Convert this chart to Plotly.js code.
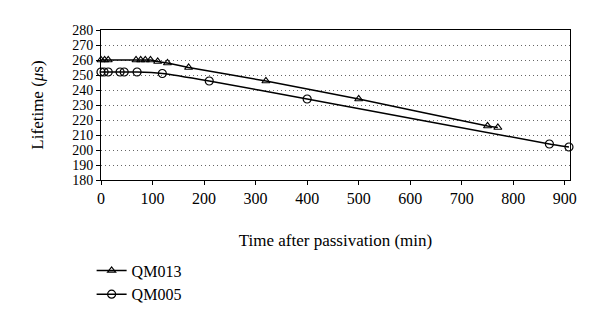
<!DOCTYPE html>
<html>
<head>
<meta charset="utf-8">
<script src="https://cdn.plot.ly/plotly-3.0.1.min.js"></script>
<style>html,body{margin:0;padding:0;background:#fff;}#chart{width:600px;height:324px;}</style>
</head>
<body>
<div id="chart"></div>
<script>
const qm013Time = [0, 7, 14, 68, 77, 86, 96, 110, 129, 170, 320, 500, 750, 770];
const qm013Life = [260, 260, 260, 260, 260, 260, 260, 259, 258, 255, 246, 234, 216, 215];
const qm005Time = [0, 6, 14, 37, 45, 70, 119, 210, 400, 870, 908];
const qm005Life = [252, 252, 252, 252, 252, 252, 251, 246, 234, 204, 202];
const seriesNames = ['QM013', 'QM005'];

const font = 'Liberation Serif, Times New Roman, serif';
const traces = [
  {x: qm013Time, y: qm013Life, name: seriesNames[0], type: 'scatter', mode: 'lines+markers',
   line: {color: '#000', width: 1.5, shape: 'spline', smoothing: 0.3},
   marker: {symbol: 'triangle-up-open', size: 7, color: '#000', line: {width: 1.2}}, cliponaxis: false},
  {x: qm005Time, y: qm005Life, name: seriesNames[1], type: 'scatter', mode: 'lines+markers',
   line: {color: '#000', width: 1.5, shape: 'spline', smoothing: 0.3},
   marker: {symbol: 'circle-open', size: 8, color: '#000', line: {width: 1.2}}, cliponaxis: false}
];
const layout = {
  width: 600, height: 324,
  margin: {l: 101, r: 30, t: 30, b: 139},
  paper_bgcolor: '#fff', plot_bgcolor: '#fff',
  font: {family: font, size: 16, color: '#000'},
  showlegend: true,
  legend: {x: -0.02, y: -0.49, xanchor: 'left', yanchor: 'top', bgcolor: 'rgba(0,0,0,0)',
           font: {family: font, size: 16}, tracegroupgap: 0, itemwidth: 30},
  xaxis: {range: [0, 910], dtick: 100, tick0: 0, showgrid: false, zeroline: false,
          showline: true, linecolor: '#000', linewidth: 1, mirror: true,
          ticks: 'outside', ticklen: 4, tickcolor: '#000', tickfont: {size: 16},
          title: {text: 'Time after passivation (min)', standoff: 27, font: {family: font, size: 17}}},
  yaxis: {range: [180, 280], dtick: 10, tick0: 180, showgrid: true, gridcolor: '#666', griddash: '1px,3px', gridwidth: 1,
          zeroline: false, showline: true, linecolor: '#000', linewidth: 1, mirror: true,
          ticks: 'outside', ticklen: 4, tickcolor: '#000', tickfont: {size: 14},
          title: {text: 'Lifetime (<i>μ</i>s)', standoff: 24, font: {family: font, size: 17}}}
};
Plotly.newPlot('chart', traces, layout, {displayModeBar: false, staticPlot: true});
</script>
</body>
</html>
